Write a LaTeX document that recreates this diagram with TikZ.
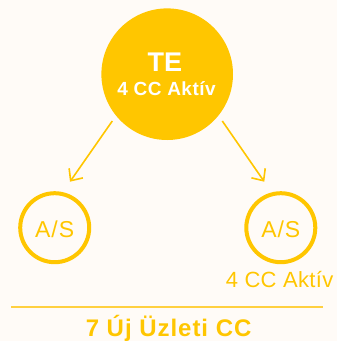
\documentclass[tikz,border=0pt]{standalone}
\usepackage{fontspec}
\setmainfont{Liberation Sans}
\usetikzlibrary{arrows.meta}
\definecolor{bgc}{RGB}{255,251,247}
\definecolor{yel}{RGB}{255,198,0}
\definecolor{yellight}{RGB}{255,208,64}
\tikzset{
  bigcirc/.style={circle,fill=yel,draw=none,minimum size=131.6pt,inner sep=0pt,outer sep=0pt},
  smallcirc/.style={circle,draw=yel,line width=4pt,minimum size=69pt,inner sep=0pt,outer sep=0pt,
    text=yel,font=\fontsize{23}{25}\selectfont\addfontfeature{LetterSpace=4},text height=18.6pt,text depth=0pt},
  arr/.style={draw=yel,line width=1.6pt,-{Straight Barb[length=9.3pt,width=16.8pt,line width=1.6pt]}},
  whitetxt/.style={text=white,inner sep=0pt,anchor=base},
  yeltxt/.style={text=yel,inner sep=0pt,anchor=base},
}
\begin{document}
\begin{tikzpicture}[x=1pt,y=-1pt]
\fill[bgc] (0,0) rectangle (337,341);
\useasboundingbox (0,0) rectangle (337,341);
\node[bigcirc] (te) at (167.2,74.2) {};
\node[whitetxt,font=\fontsize{27}{30}\selectfont\bfseries] (tetitle) at (164.9,71.7) {TE};
\node[whitetxt,font=\fontsize{19}{22}\selectfont\bfseries\addfontfeature{LetterSpace=2.5}] (tesub) at (166.5,95) {4 CC Aktív};
\node[smallcirc] (as1) at (54.7,227.7) {A/S};
\node[smallcirc] (as2) at (280.8,227.7) {A/S};
\coordinate (a1s) at (112.3,121);
\coordinate (a1e) at (70,181.7);
\coordinate (a2s) at (222.3,121);
\coordinate (a2e) at (264.3,181.7);
\draw[arr] (a1s) -- (a1e);
\draw[arr] (a2s) -- (a2e);
\node[yeltxt,font=\fontsize{22}{24}\selectfont\addfontfeature{LetterSpace=1.5}] (as2lbl) at (279.6,287.3) {4 CC Aktív};
\coordinate (rl) at (11,306.7);
\coordinate (rr) at (323,306.7);
\draw[yellight,line width=1.7pt] (rl) -- (rr);
\node[yeltxt,font=\fontsize{24}{26}\selectfont\bfseries\addfontfeature{LetterSpace=4}] (total) at (168.6,336.7) {7 Új Üzleti CC};
\end{tikzpicture}
\end{document}
